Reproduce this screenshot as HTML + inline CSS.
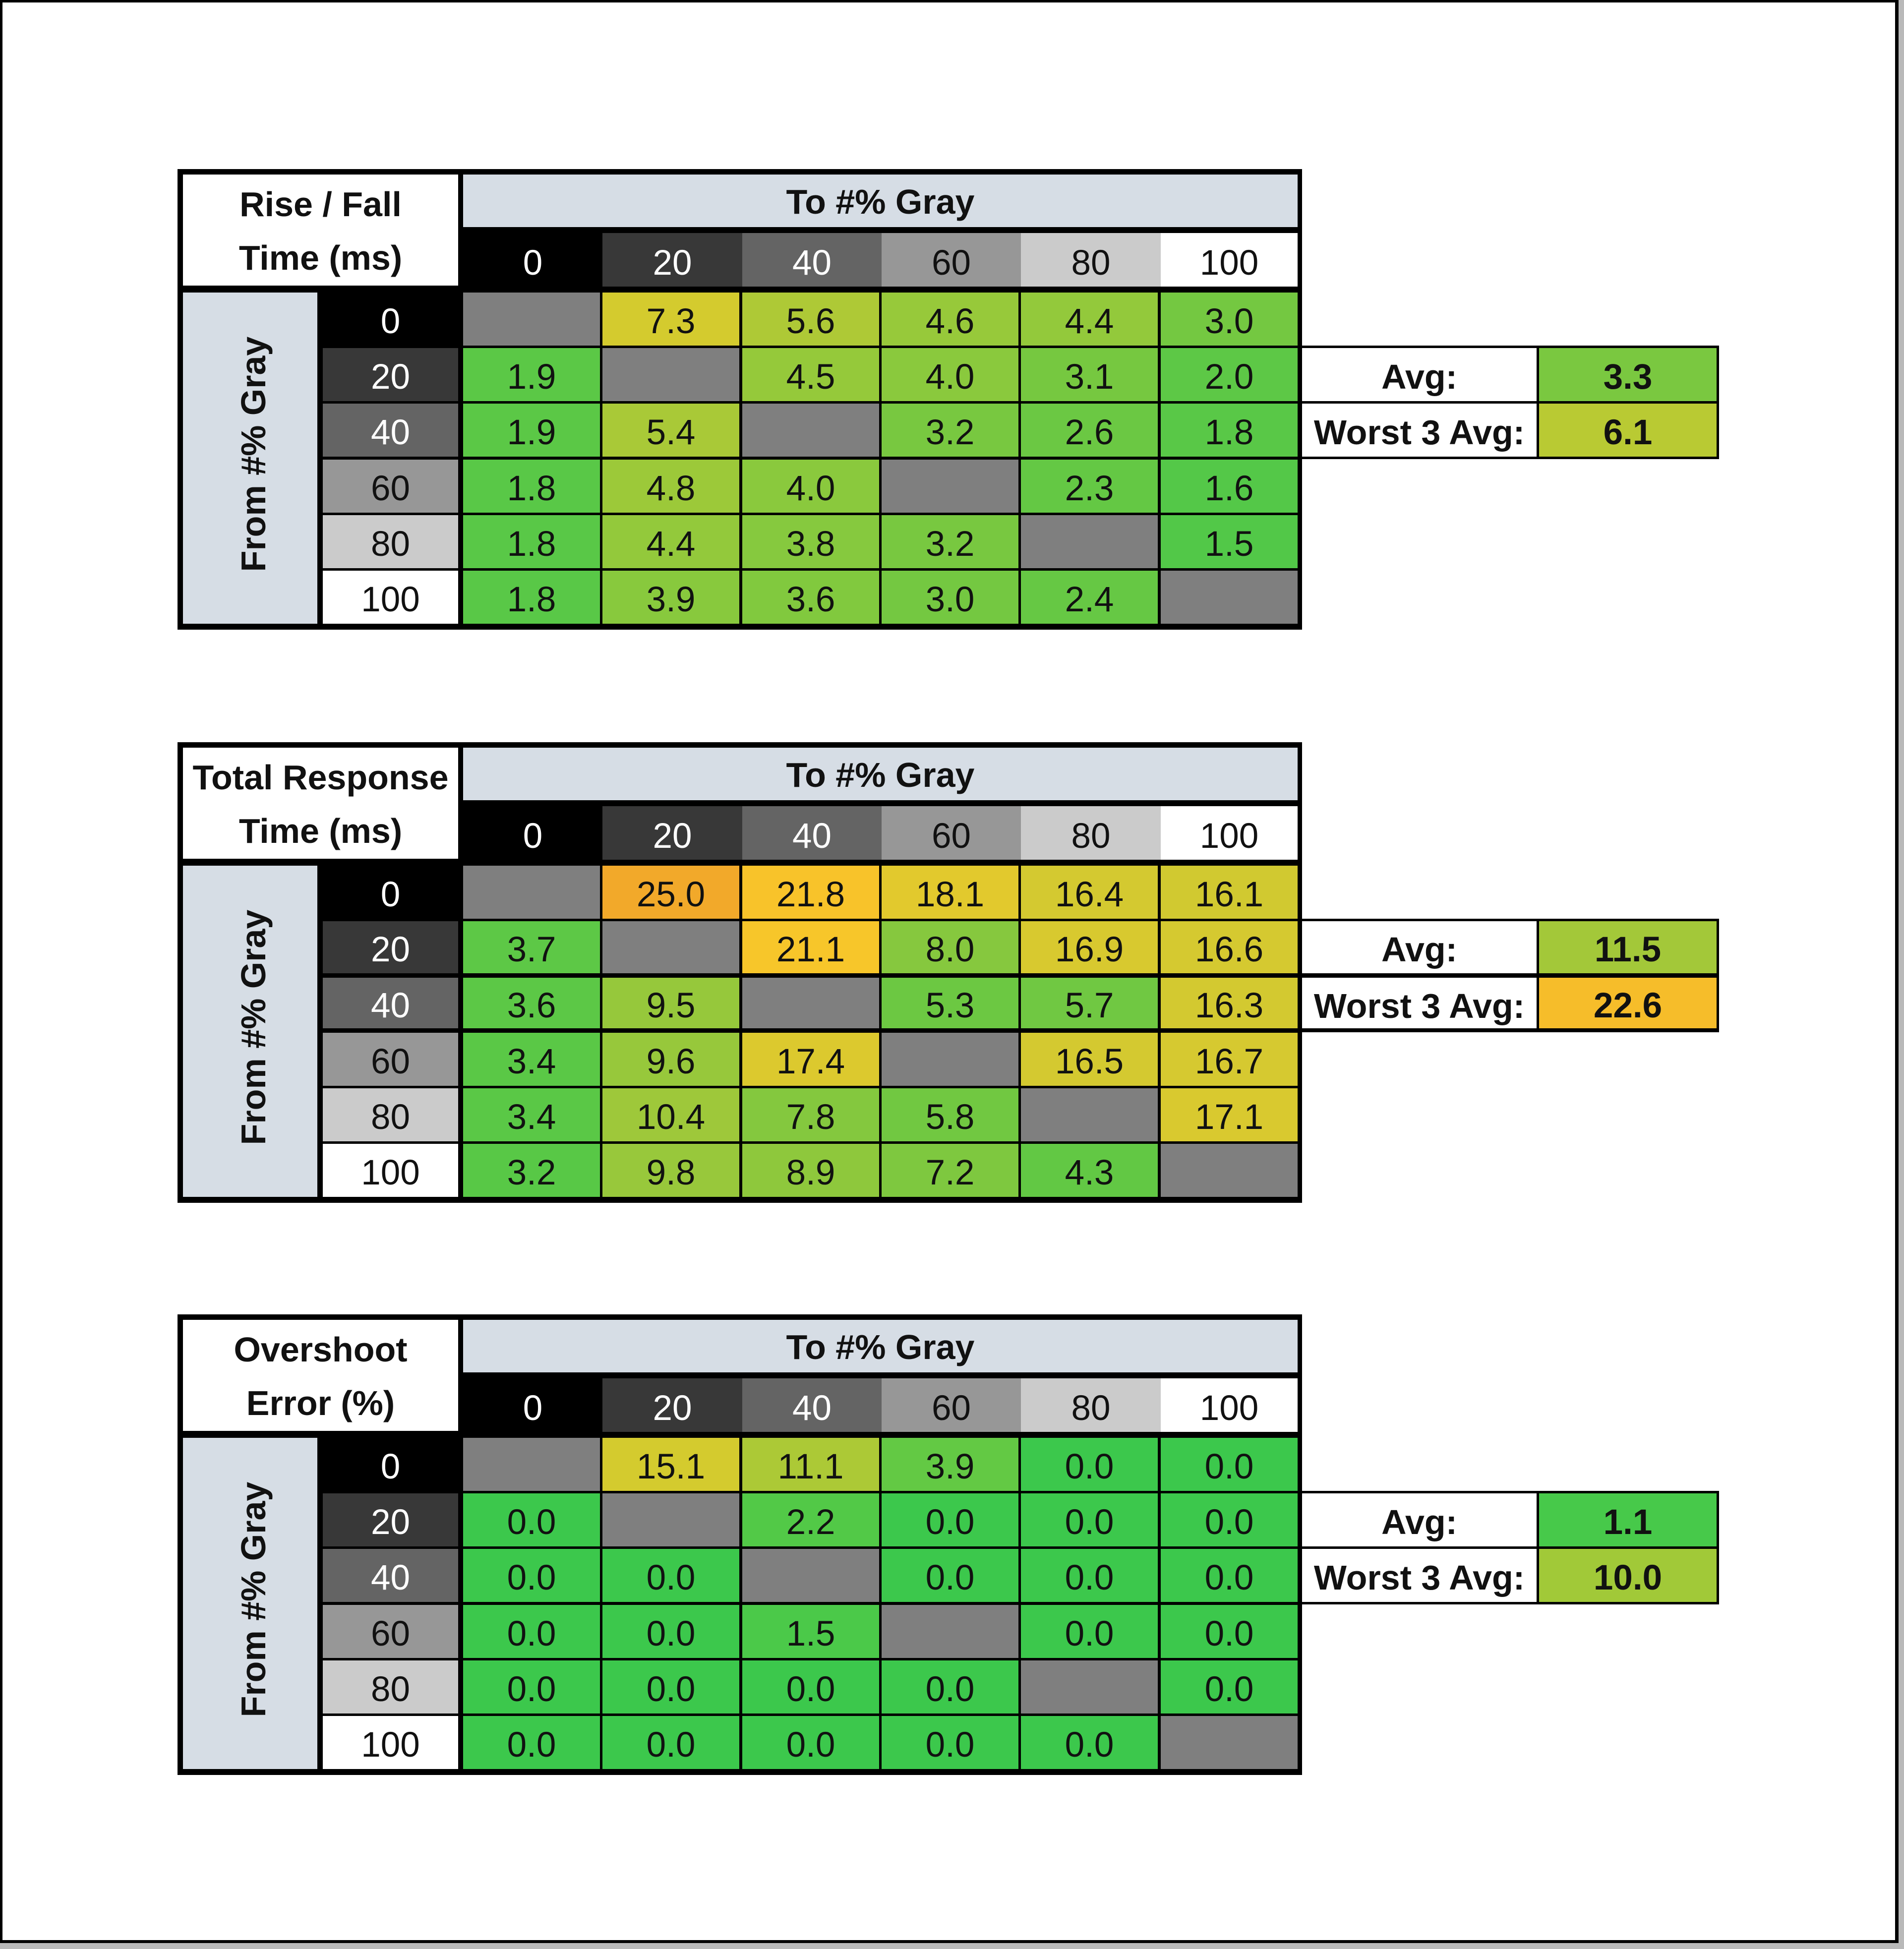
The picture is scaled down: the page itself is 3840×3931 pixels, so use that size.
<!DOCTYPE html>
<html><head><meta charset="utf-8">
<style>
html,body{margin:0;padding:0;}
body{width:3840px;height:3931px;background:#b9b9b9;position:relative;overflow:hidden;font-family:"Liberation Sans",Arial,sans-serif;}
.frame{position:absolute;left:0;top:0;width:3829px;height:3919px;background:#000;}
.inner{position:absolute;left:5px;top:5px;width:3817px;height:3908px;background:#fff;}
.t{position:absolute;left:358px;width:2268px;height:929px;background:#000;}
.t div,.a div{position:absolute;text-align:center;white-space:nowrap;color:#111;}
.d{width:276px;height:107px;line-height:117px;font-size:71px;}
.x0{left:576px}.x1{left:857px}.x2{left:1139px}.x3{left:1420px}.x4{left:1701px}.x5{left:1983px}
.y0{top:249px}.y1{top:361px}.y2{top:473px}.y3{top:586px}.y4{top:698px}.y5{top:810px}
.r{left:293px;width:273px;height:107px;line-height:117px;font-size:71px;}
.h{top:129px;height:108px;line-height:122px;font-size:71px;}
.h0{left:576px;width:281px}.h1{left:857px;width:282px}.h2{left:1139px;width:281px}.h3{left:1420px;width:281px}.h4{left:1701px;width:282px}.h5{left:1983px;width:276px}
.t .g0{background:#000;color:#fff}
.t .g20{background:#383838;color:#fff}
.t .g40{background:#646464;color:#fff}
.t .g60{background:#979797;color:#111}
.t .g80{background:#cbcbcb;color:#111}
.t .g100{background:#fff;color:#111}
.t .e{background:#7f7f7f}
.ttl{left:11px;top:11px;width:555px;height:224px;background:#fff;}
.tl{left:11px;width:555px;height:100px;line-height:100px;font-size:70px;font-weight:bold;}
.l1{top:21px}.l2{top:129px}
.blue{left:576px;top:11px;width:1683px;height:106px;background:#d6dde5;font-weight:bold;font-size:70px;line-height:110px;}
.from{left:11px;top:249px;width:271px;height:668px;background:#d6dde5;}
.vt{left:-147px;top:525px;width:600px;height:100px;line-height:100px;font-size:70px;font-weight:bold;transform:rotate(-90deg);}
.a{position:absolute;left:2621px;width:846px;height:229px;background:#000;}
.lab{left:5px;width:473px;height:107px;line-height:117px;font-size:70px;font-weight:bold;background:#fff;}
.val{left:483px;width:358px;height:107px;line-height:117px;font-size:71px;font-weight:bold;}
.ra{top:5px}.rb{top:117px}
/* table 2 thicker lines around row 40 */
.t2 .y1{height:105px;line-height:115px}
.t2 .y2{top:475px;height:102px;line-height:114px}
.a2 .ra{height:105px;line-height:115px}
.a2 .rb{top:119px;height:102px;line-height:114px}
</style></head>
<body>
<div class="frame"></div>
<div class="inner"></div>

<!-- TABLE 1 -->
<div class="t" style="top:341px">
  <div class="ttl"></div>
  <div class="tl l1">Rise / Fall</div>
  <div class="tl l2">Time (ms)</div>
  <div class="blue">To #% Gray</div>
  <div class="h h0 g0">0</div><div class="h h1 g20">20</div><div class="h h2 g40">40</div><div class="h h3 g60">60</div><div class="h h4 g80">80</div><div class="h h5 g100">100</div>
  <div class="from"></div>
  <div class="vt">From #% Gray</div>
  <div class="r y0 g0">0</div><div class="r y1 g20">20</div><div class="r y2 g40">40</div><div class="r y3 g60">60</div><div class="r y4 g80">80</div><div class="r y5 g100">100</div>

  <div class="d x0 y0 e"></div><div class="d x1 y0" style="background:#d4cb2e">7.3</div><div class="d x2 y0" style="background:#aec936">5.6</div><div class="d x3 y0" style="background:#97c93a">4.6</div><div class="d x4 y0" style="background:#93c93b">4.4</div><div class="d x5 y0" style="background:#74c841">3.0</div>
  <div class="d x0 y1" style="background:#5bc846">1.9</div><div class="d x1 y1 e"></div><div class="d x2 y1" style="background:#95c93a">4.5</div><div class="d x3 y1" style="background:#8ac93d">4.0</div><div class="d x4 y1" style="background:#76c840">3.1</div><div class="d x5 y1" style="background:#5dc846">2.0</div>
  <div class="d x0 y2" style="background:#5bc846">1.9</div><div class="d x1 y2" style="background:#a9c937">5.4</div><div class="d x2 y2 e"></div><div class="d x3 y2" style="background:#78c840">3.2</div><div class="d x4 y2" style="background:#6bc843">2.6</div><div class="d x5 y2" style="background:#59c847">1.8</div>
  <div class="d x0 y3" style="background:#59c847">1.8</div><div class="d x1 y3" style="background:#9cc939">4.8</div><div class="d x2 y3" style="background:#8ac93d">4.0</div><div class="d x3 y3 e"></div><div class="d x4 y3" style="background:#64c844">2.3</div><div class="d x5 y3" style="background:#54c848">1.6</div>
  <div class="d x0 y4" style="background:#59c847">1.8</div><div class="d x1 y4" style="background:#93c93b">4.4</div><div class="d x2 y4" style="background:#86c93e">3.8</div><div class="d x3 y4" style="background:#78c840">3.2</div><div class="d x4 y4 e"></div><div class="d x5 y4" style="background:#52c848">1.5</div>
  <div class="d x0 y5" style="background:#59c847">1.8</div><div class="d x1 y5" style="background:#88c93d">3.9</div><div class="d x2 y5" style="background:#81c93e">3.6</div><div class="d x3 y5" style="background:#74c841">3.0</div><div class="d x4 y5" style="background:#66c844">2.4</div><div class="d x5 y5 e"></div>
</div>
<div class="a" style="top:697px">
  <div class="lab ra">Avg:</div><div class="val ra" style="background:#7ac840">3.3</div>
  <div class="lab rb">Worst 3 Avg:</div><div class="val rb" style="background:#b9ca33">6.1</div>
</div>

<!-- TABLE 2 -->
<div class="t t2" style="top:1497px">
  <div class="ttl"></div>
  <div class="tl l1">Total Response</div>
  <div class="tl l2">Time (ms)</div>
  <div class="blue">To #% Gray</div>
  <div class="h h0 g0">0</div><div class="h h1 g20">20</div><div class="h h2 g40">40</div><div class="h h3 g60">60</div><div class="h h4 g80">80</div><div class="h h5 g100">100</div>
  <div class="from"></div>
  <div class="vt">From #% Gray</div>
  <div class="r y0 g0">0</div><div class="r y1 g20">20</div><div class="r y2 g40">40</div><div class="r y3 g60">60</div><div class="r y4 g80">80</div><div class="r y5 g100">100</div>

  <div class="d x0 y0 e"></div><div class="d x1 y0" style="background:#f2a92a">25.0</div><div class="d x2 y0" style="background:#f8c32a">21.8</div><div class="d x3 y0" style="background:#e2c92d">18.1</div><div class="d x4 y0" style="background:#d4c930">16.4</div><div class="d x5 y0" style="background:#d1c930">16.1</div>
  <div class="d x0 y1" style="background:#5dc846">3.7</div><div class="d x1 y1 e"></div><div class="d x2 y1" style="background:#f7c62a">21.1</div><div class="d x3 y1" style="background:#86c83e">8.0</div><div class="d x4 y1" style="background:#d8c92f">16.9</div><div class="d x5 y1" style="background:#d5c930">16.6</div>
  <div class="d x0 y2" style="background:#5cc846">3.6</div><div class="d x1 y2" style="background:#96c83b">9.5</div><div class="d x2 y2 e"></div><div class="d x3 y2" style="background:#6cc842">5.3</div><div class="d x4 y2" style="background:#70c842">5.7</div><div class="d x5 y2" style="background:#d3c930">16.3</div>
  <div class="d x0 y3" style="background:#5ac846">3.4</div><div class="d x1 y3" style="background:#97c83b">9.6</div><div class="d x2 y3" style="background:#dcc92e">17.4</div><div class="d x3 y3 e"></div><div class="d x4 y3" style="background:#d4c930">16.5</div><div class="d x5 y3" style="background:#d6c930">16.7</div>
  <div class="d x0 y4" style="background:#5ac846">3.4</div><div class="d x1 y4" style="background:#9ec83a">10.4</div><div class="d x2 y4" style="background:#84c83e">7.8</div><div class="d x3 y4" style="background:#71c841">5.8</div><div class="d x4 y4 e"></div><div class="d x5 y4" style="background:#d9c92f">17.1</div>
  <div class="d x0 y5" style="background:#58c846">3.2</div><div class="d x1 y5" style="background:#98c83b">9.8</div><div class="d x2 y5" style="background:#8ec83c">8.9</div><div class="d x3 y5" style="background:#7ec83f">7.2</div><div class="d x4 y5" style="background:#62c844">4.3</div><div class="d x5 y5 e"></div>
</div>
<div class="a a2" style="top:1853px">
  <div class="lab ra">Avg:</div><div class="val ra" style="background:#a3c839">11.5</div>
  <div class="lab rb">Worst 3 Avg:</div><div class="val rb" style="background:#f6bd2a">22.6</div>
</div>

<!-- TABLE 3 -->
<div class="t" style="top:2651px">
  <div class="ttl"></div>
  <div class="tl l1">Overshoot</div>
  <div class="tl l2">Error (%)</div>
  <div class="blue">To #% Gray</div>
  <div class="h h0 g0">0</div><div class="h h1 g20">20</div><div class="h h2 g40">40</div><div class="h h3 g60">60</div><div class="h h4 g80">80</div><div class="h h5 g100">100</div>
  <div class="from"></div>
  <div class="vt">From #% Gray</div>
  <div class="r y0 g0">0</div><div class="r y1 g20">20</div><div class="r y2 g40">40</div><div class="r y3 g60">60</div><div class="r y4 g80">80</div><div class="r y5 g100">100</div>

  <div class="d x0 y0 e"></div><div class="d x1 y0" style="background:#d4cb2e">15.1</div><div class="d x2 y0" style="background:#acc936">11.1</div><div class="d x3 y0" style="background:#63c944">3.9</div><div class="d x4 y0" style="background:#3cc84c">0.0</div><div class="d x5 y0" style="background:#3cc84c">0.0</div>
  <div class="d x0 y1" style="background:#3cc84c">0.0</div><div class="d x1 y1 e"></div><div class="d x2 y1" style="background:#52c947">2.2</div><div class="d x3 y1" style="background:#3cc84c">0.0</div><div class="d x4 y1" style="background:#3cc84c">0.0</div><div class="d x5 y1" style="background:#3cc84c">0.0</div>
  <div class="d x0 y2" style="background:#3cc84c">0.0</div><div class="d x1 y2" style="background:#3cc84c">0.0</div><div class="d x2 y2 e"></div><div class="d x3 y2" style="background:#3cc84c">0.0</div><div class="d x4 y2" style="background:#3cc84c">0.0</div><div class="d x5 y2" style="background:#3cc84c">0.0</div>
  <div class="d x0 y3" style="background:#3cc84c">0.0</div><div class="d x1 y3" style="background:#3cc84c">0.0</div><div class="d x2 y3" style="background:#4bc949">1.5</div><div class="d x3 y3 e"></div><div class="d x4 y3" style="background:#3cc84c">0.0</div><div class="d x5 y3" style="background:#3cc84c">0.0</div>
  <div class="d x0 y4" style="background:#3cc84c">0.0</div><div class="d x1 y4" style="background:#3cc84c">0.0</div><div class="d x2 y4" style="background:#3cc84c">0.0</div><div class="d x3 y4" style="background:#3cc84c">0.0</div><div class="d x4 y4 e"></div><div class="d x5 y4" style="background:#3cc84c">0.0</div>
  <div class="d x0 y5" style="background:#3cc84c">0.0</div><div class="d x1 y5" style="background:#3cc84c">0.0</div><div class="d x2 y5" style="background:#3cc84c">0.0</div><div class="d x3 y5" style="background:#3cc84c">0.0</div><div class="d x4 y5" style="background:#3cc84c">0.0</div><div class="d x5 y5 e"></div>
</div>
<div class="a" style="top:3007px">
  <div class="lab ra">Avg:</div><div class="val ra" style="background:#47c94a">1.1</div>
  <div class="lab rb">Worst 3 Avg:</div><div class="val rb" style="background:#a1c938">10.0</div>
</div>

</body></html>
